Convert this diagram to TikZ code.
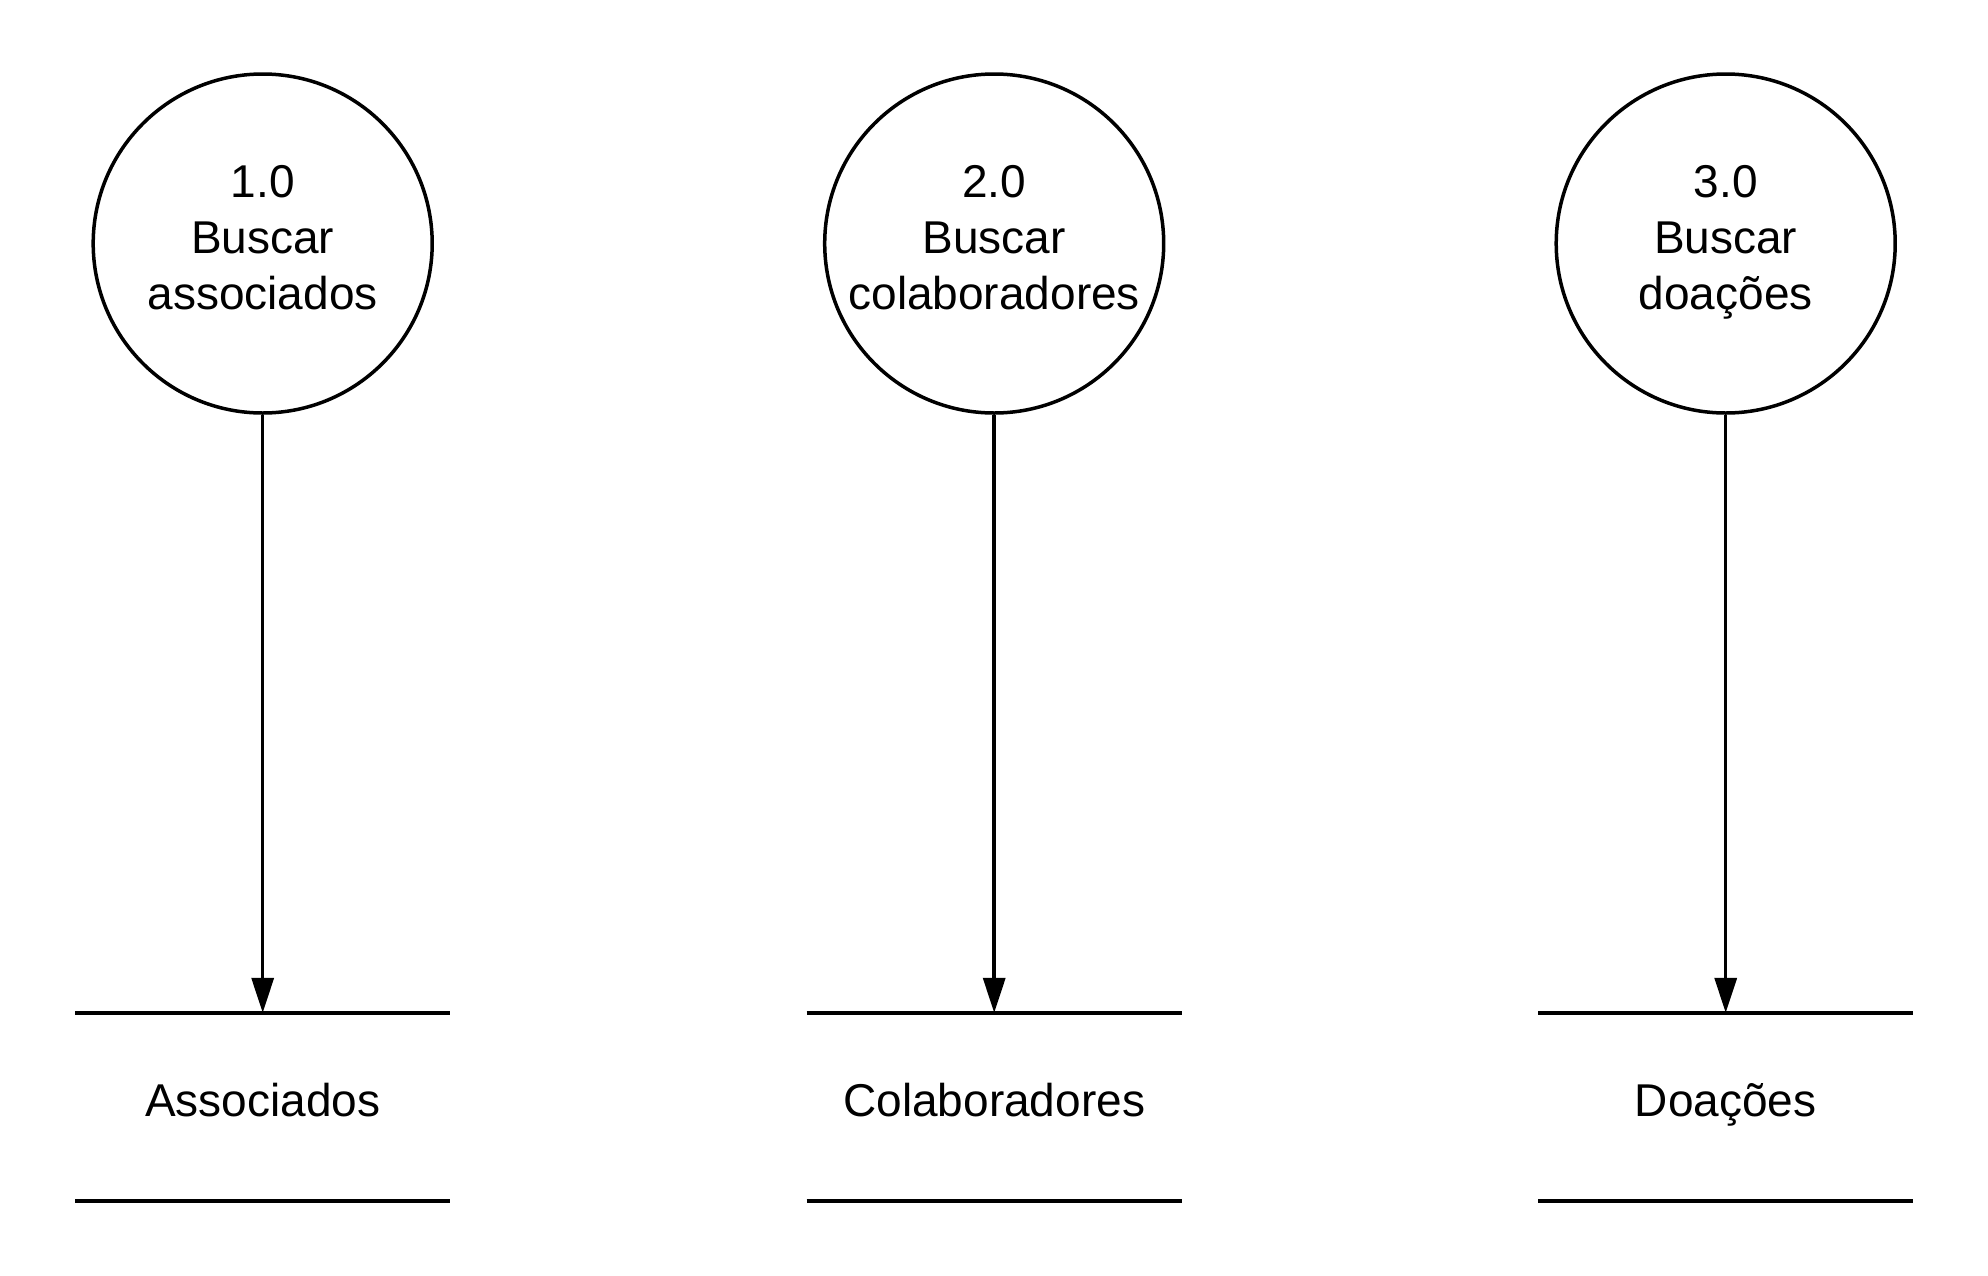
\documentclass[tikz,border=0pt]{standalone}
\usepackage{fontspec}
\setmainfont{Liberation Sans}
\usetikzlibrary{arrows.meta}
\begin{document}
\begin{tikzpicture}[x=1pt,y=-1pt,
  proc/.style={circle,draw=black,line width=3.5pt,minimum size=339pt,inner sep=0pt},
  ptext/.style={anchor=base,align=center,font=\fontsize{46}{56}\selectfont,inner sep=0pt},
  storebox/.style={minimum width=375pt,minimum height=188pt,inner sep=0pt},
  stext/.style={anchor=base,font=\fontsize{46}{56}\selectfont,inner sep=0pt},
  flow/.style={line width=3.5pt,-{Triangle[width=22pt,length=35pt]}},
  topline/.style={line width=3.5pt},
  botline/.style={line width=4.5pt}]
\useasboundingbox (0,0) rectangle (1988,1275);
\foreach \i/\x/\num/\word/\store in {1/262.7/1.0/associados/Associados, 2/994.2/2.0/colaboradores/Colaboradores, 3/1725.7/3.0/doações/Doações}{
  \node[proc] (p\i) at (\x,243.5) {};
  \node[ptext] (t\i) at (\x,309.8) {\num\\Buscar\\\word};
  \node[storebox] (s\i) at (\x,1107) {};
  \node[stext] (l\i) at (\x,1116) {\store};
  \draw[topline] (s\i.north west) -- (s\i.north east);
  \draw[botline] (s\i.south west) -- (s\i.south east);
  \draw[flow] (p\i.south) -- (s\i.north);
}
\end{tikzpicture}
\end{document}
